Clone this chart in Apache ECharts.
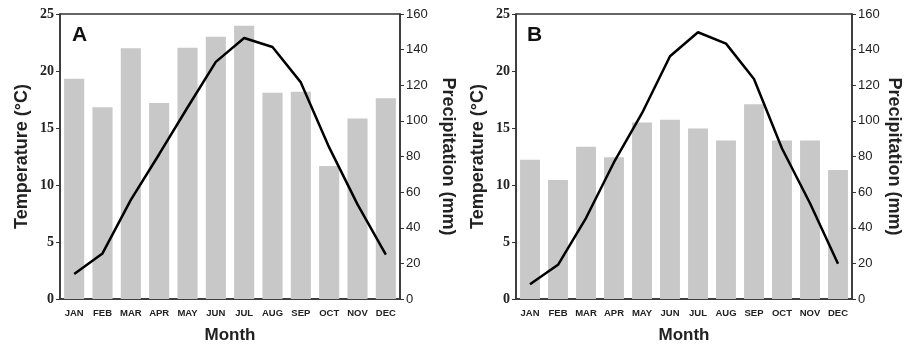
<!DOCTYPE html>
<html><head><meta charset="utf-8">
<script src="https://cdn.jsdelivr.net/npm/echarts@6/dist/echarts.min.js"></script>
<style>html,body{margin:0;padding:0;background:#fff}#c{width:904px;height:349px}</style>
</head><body><div id="c"></div>
<script>
const months = ['JAN','FEB','MAR','APR','MAY','JUN','JUL','AUG','SEP','OCT','NOV','DEC'];
const tempA = [2.2, 4.0, 8.7, 12.7, 16.8, 20.8, 22.9, 22.1, 19.0, 13.3, 8.3, 3.9];
const precA = [123.7, 107.6, 140.8, 110, 141.1, 147.2, 153.4, 115.8, 116.4, 74.6, 101.4, 112.7];
const tempB = [1.3, 3.0, 7.1, 12.0, 16.3, 21.3, 23.4, 22.4, 19.3, 13.2, 8.4, 3.1];
const precB = [78.2, 66.8, 85.5, 79.6, 99.1, 100.6, 95.7, 89.0, 109.4, 89.0, 89.0, 72.4];
const panelLabels = ['A', 'B'];

const axisColor = '#333';
const textColor = '#222';
const grids = [
  {left: 60, right: 504, top: 14, bottom: 44},
  {left: 516, right: 51, top: 14, bottom: 44}
];
function xAx(i){
  return {type:'category', gridIndex:i, data:months,
    axisLine:{lineStyle:{color:axisColor,width:1.5}},
    axisTick:{length:4,lineStyle:{color:axisColor}},
    axisLabel:{color:textColor,fontFamily:'Liberation Sans',fontWeight:'bold',fontSize:9.5,margin:9,interval:0},
    name:'Month', nameLocation:'middle', nameGap:28,
    nameTextStyle:{color:textColor,fontFamily:'Liberation Sans',fontWeight:'bold',fontSize:17}};
}
function yLeft(i){
  return {type:'value', gridIndex:i, min:0, max:25, interval:5, position:'left',
    axisLine:{show:true,lineStyle:{color:axisColor,width:1.5}},
    axisTick:{show:true,length:4,lineStyle:{color:axisColor}},
    splitLine:{show:false},
    axisLabel:{color:textColor,fontFamily:'Liberation Serif',fontWeight:'bold',fontSize:14,margin:6},
    name:'Temperature (°C)', nameLocation:'middle', nameGap:29, nameRotate:90,
    nameTextStyle:{color:textColor,fontFamily:'Liberation Sans',fontWeight:'bold',fontSize:18}};
}
function yRight(i, gap){
  return {type:'value', gridIndex:i, min:0, max:160, interval:20, position:'right',
    axisLine:{show:true,lineStyle:{color:axisColor,width:1.5}},
    axisTick:{show:true,length:4,lineStyle:{color:axisColor}},
    splitLine:{show:false},
    axisLabel:{color:textColor,fontFamily:'Liberation Sans',fontSize:13,margin:6},
    name:'Precipitation (mm)', nameLocation:'middle', nameGap:gap, nameRotate:-90,
    nameTextStyle:{color:textColor,fontFamily:'Liberation Sans',fontWeight:'bold',fontSize:18}};
}
const chart = echarts.init(document.getElementById('c'));
chart.setOption({
  animation:false,
  backgroundColor:'#fff',
  grid: grids.map(g=>Object.assign({show:true,borderColor:axisColor,borderWidth:1.5,backgroundColor:'transparent'},g)),
  xAxis:[xAx(0), xAx(1)],
  yAxis:[yLeft(0), yRight(0, 39), yLeft(1), yRight(1, 33)],
  graphic:[
    {type:'text', left:72, top:25, style:{text:panelLabels[0], font:'bold 21px "Liberation Sans"', fill:'#111'}},
    {type:'text', left:527, top:25, style:{text:panelLabels[1], font:'bold 21px "Liberation Sans"', fill:'#111'}}
  ],
  series:[
    {type:'bar', xAxisIndex:0, yAxisIndex:1, data:precA, barCategoryGap:'29%', itemStyle:{color:'#c8c8c8'}},
    {type:'line', xAxisIndex:0, yAxisIndex:0, data:tempA, showSymbol:false, lineStyle:{color:'#000',width:2.5}},
    {type:'bar', xAxisIndex:1, yAxisIndex:3, data:precB, barCategoryGap:'29%', itemStyle:{color:'#c8c8c8'}},
    {type:'line', xAxisIndex:1, yAxisIndex:2, data:tempB, showSymbol:false, lineStyle:{color:'#000',width:2.5}}
  ]
});
</script></body></html>
